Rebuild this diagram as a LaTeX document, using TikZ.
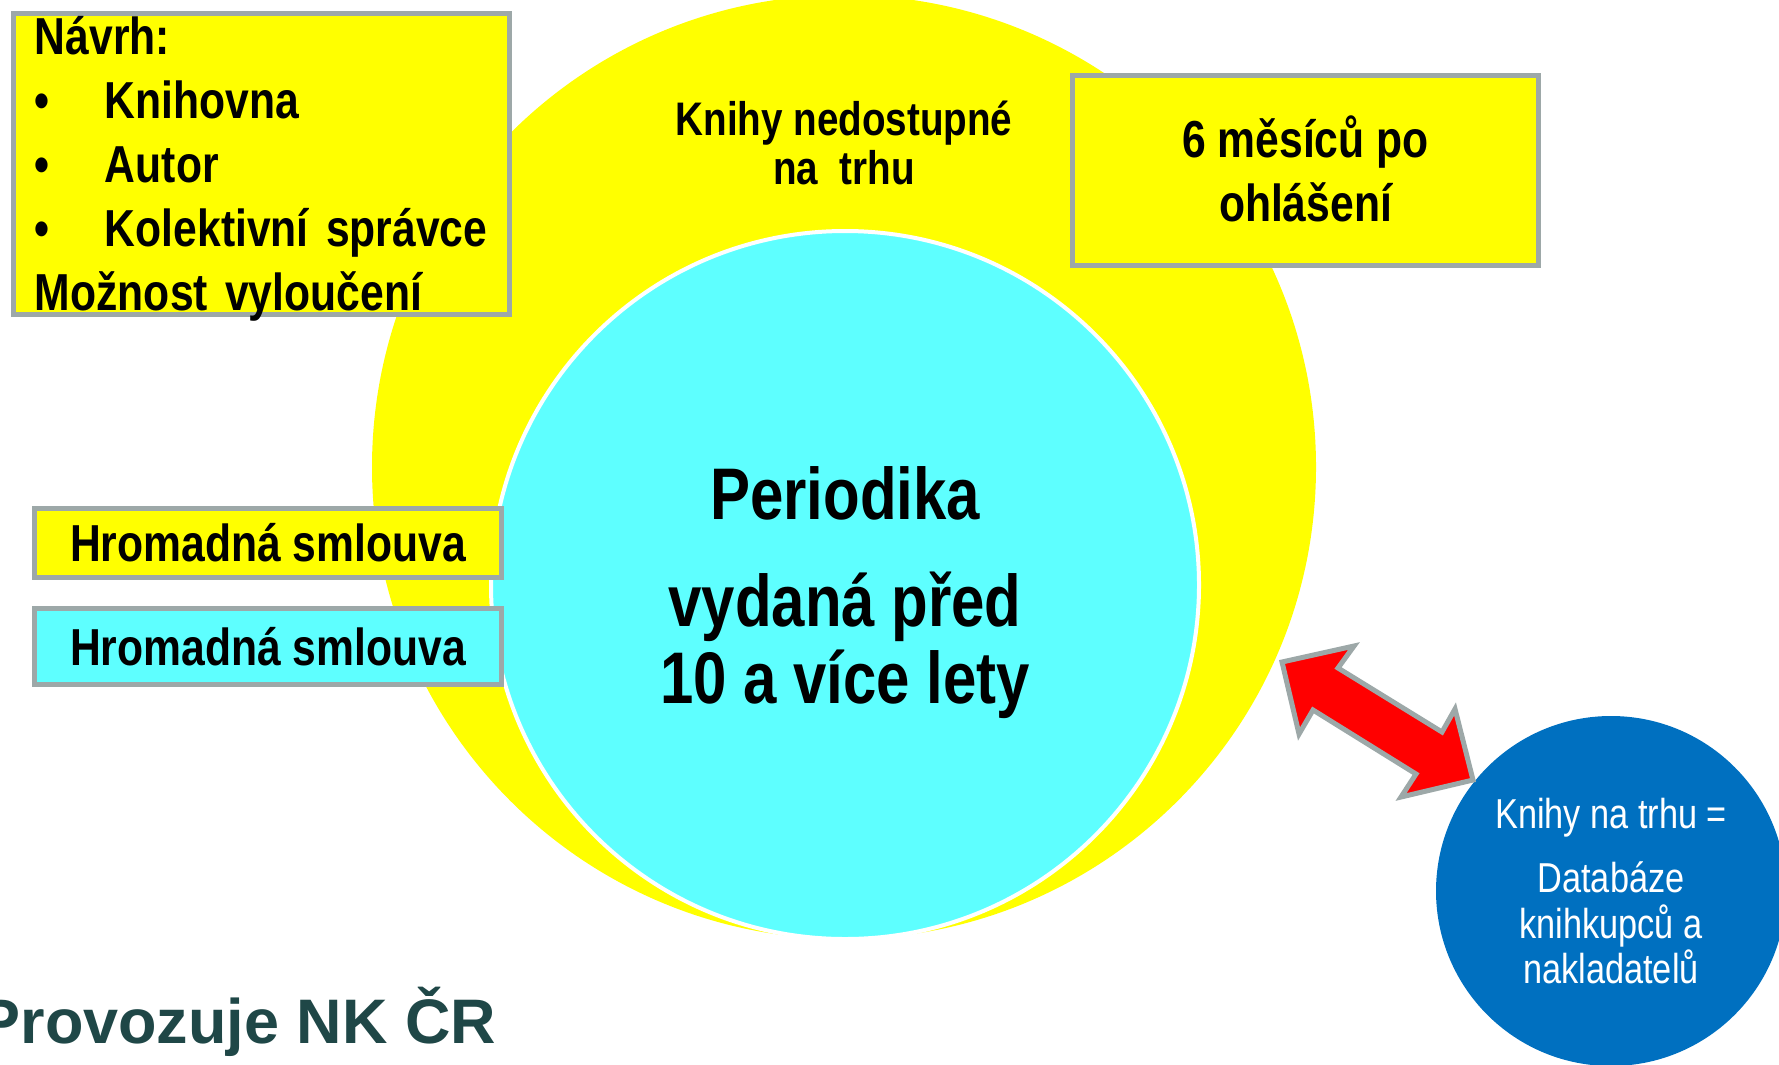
\documentclass[tikz,border=0pt]{standalone}
\usepackage{fontspec}
\setmainfont{Liberation Sans}
\newfontfamily\narrowfont[FakeStretch=0.82]{Liberation Sans}
\newcommand{\navrhdot}{\makebox[0.7cm][l]{•}}
\begin{document}
\begin{tikzpicture}[
  notebox/.style={draw=frame, line width=0.05cm, inner sep=0pt, outer sep=0pt, font=\narrowfont\bfseries\fontsize{14.8}{18.2}\selectfont},
  roundblob/.style={circle, inner sep=0pt, outer sep=0pt, align=center}]
\definecolor{sun}{HTML}{FFFF00}
\definecolor{sky}{HTML}{5EFFFF}
\definecolor{sea}{HTML}{0070C0}
\definecolor{frame}{HTML}{9DA8A8}
\definecolor{ink}{HTML}{1F4747}
\definecolor{alarm}{HTML}{FF0000}
\useasboundingbox (0,0) rectangle (17.79,10.64);
\clip (0,0) rectangle (17.79,10.64);
%Circles:
\node[roundblob, fill=sun, minimum size=9.44cm] (nedostupne) at (8.44,5.97) {};
\node[roundblob, fill=sky, draw=white, line width=0.04cm, minimum size=7.08cm, text height=2.36cm, text depth=0cm, font=\narrowfont\bfseries\fontsize{20.8}{21.9}\selectfont] (periodika) at (8.45,4.79) {Periodika\\[0.3cm]vydaná před\\10 a více lety};
\node[align=center, inner sep=0pt, text height=0.83cm, text depth=0cm, font=\narrowfont\bfseries\fontsize{13.4}{13.9}\selectfont] (nedostupnetext) at (8.44,9.215) {Knihy nedostupné\\na~~trhu};
%Boxes:
\node[notebox, fill=sun, anchor=north west, text width=4.53cm, align=left, inner xsep=0.215cm, text height=0.415cm, text depth=2.595cm] (navrh) at (0.135,10.505) {Návrh:\\\navrhdot Knihovna\\\navrhdot Autor\\\navrhdot Kolektivní správce\\Možnost vyloučení};
\node[notebox, fill=sun, minimum width=4.66cm, minimum height=1.90cm, align=center, text height=1.02cm, text depth=0cm] (lhuta) at (13.055,8.935) {6 měsíců po\\ohlášení};
\node[notebox, fill=sun, minimum width=4.67cm, minimum height=0.69cm, text height=0.37cm, text depth=0cm] (smlouvaknihy) at (2.68,5.21) {Hromadná smlouva};
\node[notebox, fill=sky, minimum width=4.67cm, minimum height=0.76cm, text height=0.37cm, text depth=0cm] (smlouvaperiodika) at (2.68,4.175) {Hromadná smlouva};
%Market:
\node[roundblob, fill=sea, minimum size=3.5cm, text=white, text height=1.85cm, text depth=0cm, font=\narrowfont\fontsize{11.9}{12.95}\selectfont] (trh) at (16.11,1.73) {Knihy na trhu =\\[0.185cm]Databáze\\knihkupců a\\nakladatelů};
%Arrow:
\draw[draw=frame, fill=alarm, line width=0.05cm] (12.82,4.02) -- (13.54,4.18) -- (13.38,3.96) -- (14.42,3.32) -- (14.55,3.55) -- (14.73,2.84) -- (14.01,2.67) -- (14.16,2.90) -- (13.13,3.54) -- (12.99,3.30) -- cycle;
%Footer:
\node[anchor=base west, inner sep=0pt, text=ink, font=\bfseries\fontsize{17.9}{20}\selectfont] (provoz) at (-0.22,0.21) {Provozuje NK ČR};
\end{tikzpicture}
\end{document}
